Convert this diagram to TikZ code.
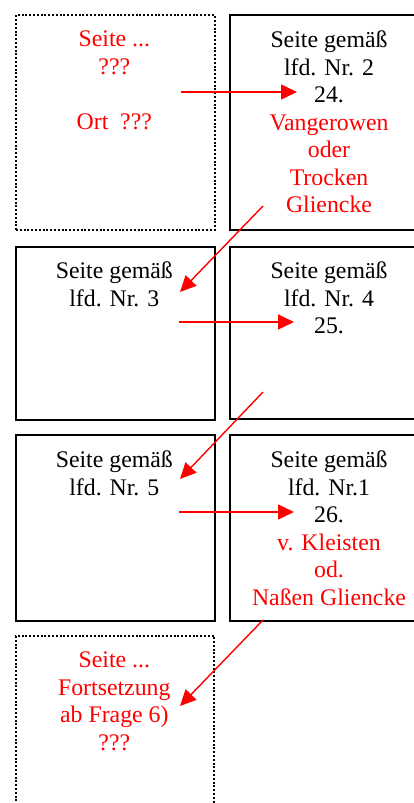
\documentclass[tikz,border=0pt]{standalone}
\usepackage{fontspec}
\setmainfont{Liberation Serif}
\usetikzlibrary{arrows.meta}
\begin{document}
\begin{tikzpicture}[x=1pt,y=-1pt,
  solidbox/.style={draw=black,line width=2pt,inner sep=0pt,anchor=north west},
  dotbox/.style={draw=black,line width=2pt,dash pattern=on 2pt off 1.8pt,inner sep=0pt,anchor=north west},
  txt/.style={anchor=north,inner sep=0pt,align=center,font=\fontsize{23.8}{27.5}\selectfont},
  redarrow/.style={draw=red,line width=1.4pt,-{Triangle[length=16pt,width=15pt]}}]
\useasboundingbox (0,0) rectangle (414,803);
\clip (0,0) rectangle (414,803);
% boxes
\node[dotbox,minimum width=198.5pt,minimum height=214.7pt] (A) at (15,14.3) {};
\node[solidbox,minimum width=200pt,minimum height=214.7pt] (B) at (229.3,14.3) {};
\node[solidbox,minimum width=199pt,minimum height=172.7pt] (C) at (14.7,246) {};
\node[solidbox,minimum width=200pt,minimum height=172.7pt] (D) at (229.3,245.5) {};
\node[solidbox,minimum width=199pt,minimum height=185.7pt] (E) at (14.7,434.3) {};
\node[solidbox,minimum width=200pt,minimum height=185.7pt] (F) at (229.3,434.3) {};
\node[dotbox,minimum width=198.3pt,minimum height=200pt] (G) at (15,635) {};
% texts
\node[txt,text=red] (tA) at (114.3,30.7) {Seite ...\\???\\[27.5pt]Ort~~???};
\node[txt] (tB) at (329,30.7) {Seite gemäß\\lfd. Nr. 2\\24.\\{\color{red}Vangerowen}\\{\color{red}oder}\\{\color{red}Trocken}\\{\color{red}Gliencke}};
\node[txt] (tC) at (114.3,262) {Seite gemäß\\lfd. Nr. 3};
\node[txt] (tD) at (329,262) {Seite gemäß\\lfd. Nr. 4\\25.};
\node[txt] (tE) at (114.3,450.7) {Seite gemäß\\lfd. Nr. 5};
\node[txt] (tF) at (329,450.7) {Seite gemäß\\lfd. Nr.1\\26.\\{\color{red}v. Kleisten}\\{\color{red}od.}\\{\color{red}Naßen Gliencke}};
\node[txt,text=red] (tG) at (114.3,651.7) {Seite ...\\Fortsetzung\\ab Frage 6)\\???};
% arrow end points
\coordinate (h1s) at (181,92);  \coordinate (h1e) at (297,92);
\coordinate (d1s) at (263,206); \coordinate (d1e) at (180,292);
\coordinate (h2s) at (179,322); \coordinate (h2e) at (294,322);
\coordinate (d2s) at (263,392); \coordinate (d2e) at (180,479);
\coordinate (h3s) at (179,512); \coordinate (h3e) at (294,512);
\coordinate (d3s) at (263,620); \coordinate (d3e) at (180,706);
\draw[redarrow] (h1s) -- (h1e);
\draw[redarrow] (d1s) -- (d1e);
\draw[redarrow] (h2s) -- (h2e);
\draw[redarrow] (d2s) -- (d2e);
\draw[redarrow] (h3s) -- (h3e);
\draw[redarrow] (d3s) -- (d3e);
\end{tikzpicture}
\end{document}
